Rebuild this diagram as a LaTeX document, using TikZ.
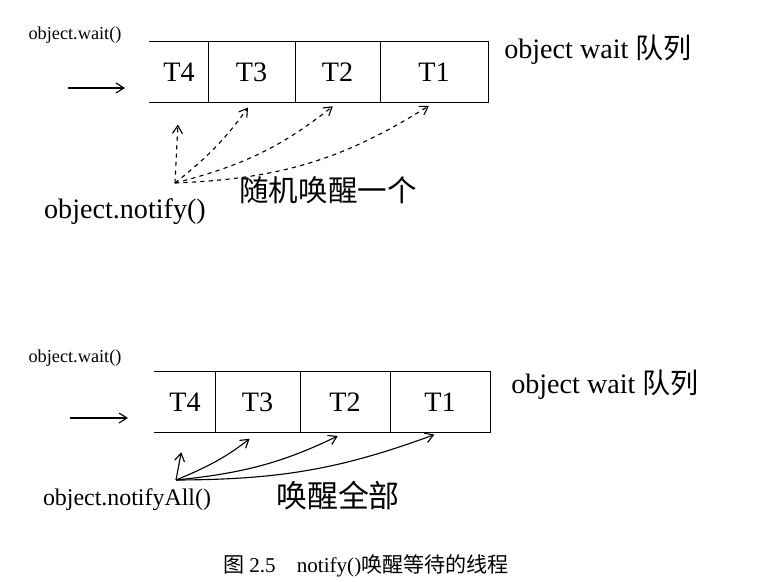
\documentclass[tikz,border=0pt]{standalone}
\usepackage{fontspec}
\setmainfont{Liberation Serif}
\newfontfamily\cjk{Noto Sans CJK SC}
\usetikzlibrary{arrows.meta,calc}

\begin{document}
\begin{tikzpicture}[x=0.025cm,y=-0.025cm,
    cell/.style={minimum height=1.5cm,inner sep=0pt,font=\fontsize{20}{20}\selectfont},
    hand/.style={inner sep=0pt,font=\fontsize{16}{16}\selectfont},
    wake/.style={-{Straight Barb[length=2mm,width=2.5mm]},thick,shorten >=0.15cm},
    thick]
  \useasboundingbox (0,0) rectangle (759,582);

  % notify()
  \node[hand,font=\fontsize{13}{13}\selectfont] (wait1) at (75,35) {object.wait()};
  \node[cell,minimum width=1.45cm]  (t4) at (179,72)   {T4};
  \node[cell,minimum width=2.175cm] (t3) at (251.5,72) {T3};
  \node[cell,minimum width=2.125cm] (t2) at (337.5,72) {T2};
  \node[cell,minimum width=2.7cm]   (t1) at (434,72)   {T1};
  \draw (t4.north west) -- (t1.north east) -- (t1.south east) -- (t4.south west);
  \draw (t4.north east) -- (t4.south east);
  \draw (t3.north east) -- (t3.south east);
  \draw (t2.north east) -- (t2.south east);
  \coordinate (in1) at (68,88);
  \draw[wake,shorten >=0pt] (in1) -- (125,88);
  \node[hand,font=\fontsize{20}{20}\selectfont] (queue1) at (598,50) {object wait {\cjk 队列}};
  \node[hand,font=\fontsize{20}{20}\selectfont] (notify) at (125,212) {object.notify()};
  \node[hand,font=\fontsize{21}{21}\selectfont\cjk] (random) at (328,190) {随机唤醒一个};
  \coordinate (src1) at (175,183);
  \begin{scope}[dashed]
    \draw[wake,shorten >=0.55cm] (src1) to (t4.south);
    \draw[wake] (src1) to[bend right=8] (t3.south);
    \draw[wake] (src1) to[bend right=12] (t2.south);
    \draw[wake] (src1) to[bend right=15] (t1.south);
  \end{scope}

  % notifyAll()
  \node[hand,font=\fontsize{13}{13}\selectfont] (wait2) at (75,358) {object.wait()};
  \node[cell,minimum width=1.5cm]   (s4) at (185,402)   {T4};
  \node[cell,minimum width=2.125cm] (s3) at (257.5,402) {T3};
  \node[cell,minimum width=2.25cm]  (s2) at (345,402)   {T2};
  \node[cell,minimum width=2.5cm]   (s1) at (440,402)   {T1};
  \draw (s4.north west) -- (s1.north east) -- (s1.south east) -- (s4.south west);
  \draw (s4.north east) -- (s4.south east);
  \draw (s3.north east) -- (s3.south east);
  \draw (s2.north east) -- (s2.south east);
  \coordinate (in2) at (70,418);
  \draw[wake,shorten >=0pt] (in2) -- (128,418);
  \node[hand,font=\fontsize{20}{20}\selectfont] (queue2) at (605,385) {object wait {\cjk 队列}};
  \node[hand,font=\fontsize{17}{17}\selectfont] (notifyall) at (127,500) {object.notifyAll()};
  \node[hand,font=\fontsize{22}{22}\selectfont\cjk] (all) at (338,496) {唤醒全部};
  \coordinate (src2) at (176,480);
  \draw[wake,shorten >=0.5cm] (src2) to (s4.south);
  \draw[wake,shorten >=0.25cm] (src2) to[bend right=8] (s3.south);
  \draw[wake,shorten >=0.2cm] (src2) to[bend right=10] (s2.south);
  \draw[wake,shorten >=0.15cm] (src2) to[bend right=10] (s1.south);

  \node[inner sep=0pt,font=\fontsize{15}{15}\selectfont] (caption) at (366,566)
    {{\cjk 图} 2.5\quad notify(){\cjk 唤醒等待的线程}};
\end{tikzpicture}
\end{document}
